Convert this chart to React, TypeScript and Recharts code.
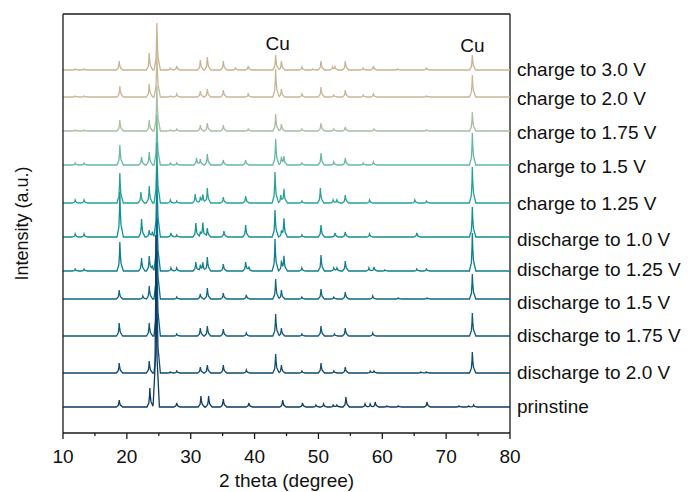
import React from 'react';
import { LineChart, Line, XAxis, YAxis, ReferenceLine, ReferenceDot } from 'recharts';

// Series, bottom to top
const seriesNames = [
  'prinstine',
  'discharge to 2.0 V',
  'discharge to 1.75 V',
  'discharge to 1.5 V',
  'discharge to 1.25 V',
  'discharge to 1.0 V',
  'charge to 1.25 V',
  'charge to 1.5 V',
  'charge to 1.75 V',
  'charge to 2.0 V',
  'charge to 3.0 V',
];

// vertical stacking offsets (a.u.)
const offsets = [26, 60, 97, 134, 162, 196, 230, 268, 302, 336, 363];
// vertical positions of the series name labels (a.u.)
const labelOffsets = [27, 61, 98, 131, 164, 194, 230, 267, 301, 335, 364];

const colors = [
  '#0c3a62', '#0f4a72', '#0f587d', '#0d6785', '#0e7d8f', '#119095',
  '#24a396', '#67b8a0', '#a8bea0', '#c6b897', '#c8b391',
];

// [2theta, intensity] peak lists
const pPrinstine = [[18.8,7],[23.6,19],[24.55,172],[27.8,4],[31.6,11],[32.8,11],[35.1,8],[39.1,4],[44.4,7],[47.5,4],[49.6,2],[50.8,3],[52.3,2],[52.9,2],[54.3,10],[57.3,3],[58.1,3],[58.9,5],[60.7,1],[62.5,1],[67.0,5],[72.0,1],[73.5,1],[74.3,2]];
const pD20 = [[18.8,10],[23.5,12],[24.7,90],[26.8,1],[27.8,2],[31.5,6],[32.6,8],[35.1,8],[38.7,3],[43.3,19],[44.2,8],[47.4,2],[50.4,10],[52.4,2],[54.2,6],[58.1,2],[58.7,2],[66.0,1],[66.9,1],[74.1,21]];
const pD175 = [[18.8,13],[23.5,13],[24.7,85],[27.8,2],[31.5,8],[32.6,10],[35.1,7],[38.7,3],[43.3,22],[44.2,8],[47.4,2],[50.4,10],[52.5,2],[54.2,8],[58.5,3],[74.1,23]];
const pD15 = [[18.8,9],[22.5,3],[23.5,13],[24.7,80],[27.8,2],[31.5,5],[32.6,11],[35.1,6],[38.7,4],[43.3,20],[44.2,9],[47.4,2],[50.4,10],[52.4,2],[54.2,7],[58.5,3],[62.5,1],[67.0,1],[74.1,25]];
const pD125 = [[11.9,2],[13.3,2],[18.9,29],[22.3,13],[23.5,15],[24.0,5],[24.7,75],[26.9,3],[27.8,3],[30.8,9],[31.5,6],[31.9,8],[32.6,14],[35.1,7],[38.6,9],[39.1,4],[43.2,32],[44.2,10],[44.6,14],[47.4,3],[50.4,16],[52.4,3],[52.9,3],[54.2,10],[57.9,3],[58.7,4],[60.4,1],[65.4,2],[66.9,2],[74.1,38]];
const pD10 = [[11.9,3],[13.3,3],[18.9,45],[22.3,18],[23.5,7],[24.0,5],[24.7,70],[26.9,4],[27.8,2],[30.8,14],[31.5,5],[31.9,14],[32.6,9],[35.2,6],[38.6,12],[43.2,27],[44.2,6],[44.6,18],[47.4,2],[50.4,12],[52.6,4],[54.2,5],[58.0,3],[65.4,4],[74.1,30]];
const pC125 = [[11.9,3],[13.3,3],[18.9,30],[22.2,11],[23.5,17],[24.7,60],[26.8,3],[27.8,2],[30.7,9],[31.5,6],[31.9,8],[32.6,15],[35.1,6],[38.6,7],[43.2,31],[44.1,8],[44.6,14],[47.4,2],[50.3,15],[52.3,3],[52.9,3],[54.2,8],[58.0,3],[65.1,3],[66.9,2],[74.1,36]];
const pC15 = [[11.9,2],[13.3,2],[18.9,20],[22.3,8],[23.5,13],[24.7,50],[26.8,2],[27.8,2],[30.9,7],[31.5,6],[32.6,11],[35.1,5],[38.6,5],[43.3,26],[44.2,8],[44.6,8],[47.4,2],[50.4,12],[52.4,3],[54.2,7],[57.0,2],[58.6,3],[74.1,32]];
const pC175 = [[11.9,1],[13.3,1],[18.9,11],[23.5,11],[24.7,45],[26.8,1],[27.8,2],[31.5,6],[32.6,8],[35.1,6],[39.0,2],[43.3,17],[44.2,7],[47.4,2],[50.4,8],[52.4,2],[54.2,4],[58.7,2],[66.9,1],[74.1,19]];
const pC20 = [[11.9,1],[13.3,1],[18.9,11],[23.5,13],[24.7,45],[26.8,1],[27.8,3],[31.5,6],[32.6,8],[35.1,7],[39.0,3],[43.3,28],[44.2,8],[47.4,3],[50.4,10],[52.4,2],[54.2,7],[57.0,2],[58.6,3],[66.9,1],[74.1,22]];
const pC30 = [[11.9,1],[13.3,1],[18.8,9],[23.5,17],[24.7,47],[26.8,2],[27.8,4],[31.5,10],[32.6,13],[35.1,9],[37.0,2],[39.0,4],[43.3,15],[44.2,9],[47.4,3],[49.1,1],[50.4,9],[52.2,3],[52.6,3],[54.2,9],[57.0,2],[58.6,4],[62.4,1],[66.9,2],[74.1,15]];

const peakLists = [pPrinstine, pD20, pD175, pD15, pD125, pD10, pC125, pC15, pC175, pC20, pC30];

const xTicks = [10, 15, 20, 25, 30, 35, 40, 45, 50, 55, 60, 65, 70, 75, 80];
const cuMarks = [{ x: 43.6, y: 390 }, { x: 74.1, y: 387.5 }];

// peak profile (relative 2theta, fraction of height)
const profile = [[-0.45, 0], [-0.15, 0.22], [-0.05, 0.6], [0, 1], [0.07, 0.6], [0.18, 0.28], [0.55, 0]];

function profAt(dx: number): number {
  if (dx <= profile[0][0] || dx >= profile[profile.length - 1][0]) return 0;
  for (let i = 0; i < profile.length - 1; i++) {
    const [x0, y0] = profile[i];
    const [x1, y1] = profile[i + 1];
    if (dx >= x0 && dx <= x1) return y0 + ((dx - x0) / (x1 - x0)) * (y1 - y0);
  }
  return 0;
}

function buildSeries(peaks: number[][], offset: number) {
  const xs: number[] = [10, 80];
  peaks.forEach(([p]) => profile.forEach(([d]) => xs.push(+(p + d).toFixed(3))));
  const uniq = Array.from(new Set(xs)).filter((x) => x >= 10 && x <= 80).sort((a, b) => a - b);
  return uniq.map((x) => {
    let y = offset;
    peaks.forEach(([p, h]) => { y += h * profAt(x - p); });
    return { x, y };
  });
}

const seriesData = peakLists.map((pk, i) => buildSeries(pk, offsets[i]));

const FONT = 'Liberation Sans, Arial, Helvetica, sans-serif';
const AX = '#1a1a1a';
const FS = 19;

const XTick = (props: any) => {
  const { x, y, payload } = props;
  const major = payload.value % 10 === 0;
  return (
    <g>
      <line x1={x} y1={y} x2={x} y2={y + (major ? 6 : 3)} stroke={AX} strokeWidth={1.3} />
      {major && (
        <text x={x} y={y + 30} textAnchor="middle" fontSize={FS} fill="#111" fontFamily={FONT}>
          {payload.value}
        </text>
      )}
    </g>
  );
};

export default function App() {
  const order = seriesNames.map((_, i) => seriesNames.length - 1 - i);
  return (
    <div style={{ position: 'absolute', left: 0, top: 0, background: '#fff' }}>
      <LineChart
        width={689}
        height={492}
        margin={{ top: 14, right: 179, bottom: 0, left: 0 }}
        style={{ fontFamily: FONT }}
      >
        <XAxis
          type="number"
          dataKey="x"
          domain={[10, 80]}
          ticks={xTicks}
          interval={0}
          allowDataOverflow
          height={59}
          tickSize={0}
          tickMargin={0}
          tickLine={false}
          tick={<XTick />}
          axisLine={{ stroke: AX, strokeWidth: 1.3 }}
          label={{
            content: (p: any) => {
              const vb = p.viewBox || { x: 63, y: 433, width: 447 };
              return (
                <text x={vb.x + vb.width / 2} y={vb.y + 54} textAnchor="middle" fontSize={FS} fill="#111" fontFamily={FONT}>
                  2 theta (degree)
                </text>
              );
            },
          }}
        />
        <YAxis
          type="number"
          domain={[0, 419]}
          allowDataOverflow
          width={63}
          tick={false}
          tickLine={false}
          axisLine={{ stroke: AX, strokeWidth: 1.3 }}
          label={{
            content: (p: any) => {
              const vb = p.viewBox || { x: 0, y: 14, width: 63, height: 419 };
              const cx = vb.x + 22;
              const cy = vb.y + vb.height / 2;
              return (
                <text x={cx} y={cy} transform={`rotate(-90 ${cx} ${cy})`} textAnchor="middle" dominantBaseline="central" fontSize={18} fill="#111" fontFamily={FONT}>
                  Intensity (a.u.)
                </text>
              );
            },
          }}
        />
        <ReferenceLine y={419} stroke={AX} strokeWidth={1.3} />
        <ReferenceLine x={80} stroke={AX} strokeWidth={1.3} />
        {order.map((i) => (
          <Line
            key={seriesNames[i]}
            data={seriesData[i]}
            dataKey="y"
            type="linear"
            stroke={colors[i]}
            strokeWidth={1.3}
            dot={false}
            activeDot={false}
            isAnimationActive={false}
          />
        ))}
        {seriesNames.map((name, i) => (
          <ReferenceDot
            key={'lbl' + i}
            x={80}
            y={labelOffsets[i]}
            r={0}
            fill="none"
            stroke="none"
            label={{ value: name, position: 'right', offset: 7, fill: '#111', fontSize: FS, fontFamily: FONT }}
          />
        ))}
        {cuMarks.map((c, i) => (
          <ReferenceDot
            key={'cu' + i}
            x={c.x}
            y={c.y}
            r={0}
            fill="none"
            stroke="none"
            label={{ value: 'Cu', position: 'center', fill: '#111', fontSize: FS, fontFamily: FONT }}
          />
        ))}
      </LineChart>
    </div>
  );
}
